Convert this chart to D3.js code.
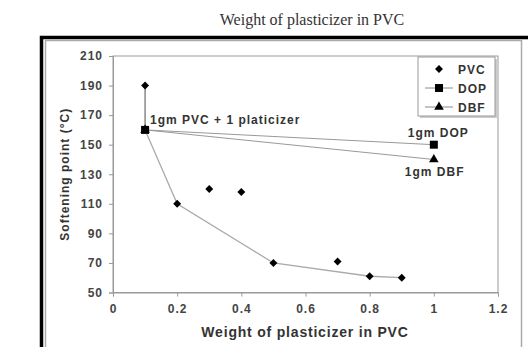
<!DOCTYPE html>
<html>
<head>
<meta charset="utf-8">
<script src="https://d3js.org/d3.v7.min.js"></script>
<style>
  body { margin: 0; background: #fff; }
  svg { display: block; }
  .tick text { font-family: Arial, "Liberation Sans", sans-serif; font-weight: bold; font-size: 12px; letter-spacing: 1px; fill: #444; }
  .tick line, .domain { stroke: #999; }
</style>
</head>
<body>
<div id="chart"></div>
<script>
// PVC measured points
const pvcX = [0.1, 0.2, 0.3, 0.4, 0.5, 0.7, 0.8, 0.9];
const pvcY = [190, 110, 120, 118, 70, 71, 61, 60];
// trend line drawn through part of the PVC points
const trendX = [0.1, 0.1, 0.2, 0.5, 0.8, 0.9];
const trendY = [190, 160, 110, 70, 61, 60];
// plasticizer series
const dopX = [0.1, 1];
const dopY = [160, 150];
const dbfX = [0.1, 1];
const dbfY = [160, 140];

const xTicks = [0, 0.2, 0.4, 0.6, 0.8, 1, 1.2];
const yTicks = [50, 70, 90, 110, 130, 150, 170, 190, 210];
const legendNames = ["PVC", "DOP", "DBF"];

const width = 528, height = 347;
const sans = "Arial, 'Liberation Sans', sans-serif";
const svg = d3.select("#chart").append("svg")
  .attr("width", width).attr("height", height);

// outer frame of the picture
svg.append("path")
  .attr("d", "M41.5,360 V37.5 H530")
  .attr("fill", "none").attr("stroke", "#000").attr("stroke-width", 3.5);
svg.append("path")
  .attr("d", "M45.5,360 V40.5 H521.5 V360")
  .attr("fill", "none").attr("stroke", "#aaa").attr("stroke-width", 1.5);

svg.append("text")
  .attr("x", 312).attr("y", 25)
  .attr("text-anchor", "middle")
  .attr("font-family", "'Liberation Serif', 'Times New Roman', serif")
  .attr("font-size", 16).attr("fill", "#333")
  .text("Weight of plasticizer in PVC");

const x = d3.scaleLinear().domain([0, 1.2]).range([113, 498]);
const y = d3.scaleLinear().domain([50, 210]).range([292.5, 56]);

// plot border
svg.append("rect")
  .attr("x", x(0)).attr("y", y(210))
  .attr("width", x(1.2) - x(0)).attr("height", y(50) - y(210))
  .attr("fill", "none").attr("stroke", "#999");

svg.append("g")
  .attr("transform", `translate(0,${y(50)})`)
  .call(d3.axisBottom(x).tickValues(xTicks).tickSize(4).tickPadding(8)
    .tickFormat(d => d3.format("~g")(d)));

svg.append("g")
  .attr("transform", `translate(${x(0)},0)`)
  .call(d3.axisLeft(y).tickValues(yTicks).tickSize(4).tickPadding(6));

// axis titles
svg.append("text")
  .attr("transform", `translate(69,${(y(50) + y(210)) / 2}) rotate(-90)`)
  .attr("text-anchor", "middle")
  .attr("font-family", sans).attr("letter-spacing", 1)
  .attr("font-weight", "bold").attr("font-size", 12).attr("fill", "#333")
  .text("Softening point (°C)");

svg.append("text")
  .attr("x", 305).attr("y", 336.5)
  .attr("text-anchor", "middle")
  .attr("font-family", sans).attr("letter-spacing", 0.8)
  .attr("font-weight", "bold").attr("font-size", 14).attr("fill", "#333")
  .text("Weight of plasticizer in PVC");

const line = d3.line().x(d => x(d[0])).y(d => y(d[1]));

svg.append("path")
  .datum(d3.zip(trendX.slice(0, 2), trendY.slice(0, 2)))
  .attr("d", line).attr("fill", "none").attr("stroke", "#777").attr("stroke-width", 1.3);
svg.append("path")
  .datum(d3.zip(trendX.slice(1), trendY.slice(1)))
  .attr("d", line).attr("fill", "none").attr("stroke", "#aaa").attr("stroke-width", 1.3);
svg.append("path")
  .datum(d3.zip(dopX, dopY))
  .attr("d", line).attr("fill", "none").attr("stroke", "#999").attr("stroke-width", 1);
svg.append("path")
  .datum(d3.zip(dbfX, dbfY))
  .attr("d", line).attr("fill", "none").attr("stroke", "#999").attr("stroke-width", 1);

const diamond = d3.symbol().type(d3.symbolDiamond2).size(40);
const square = d3.symbol().type(d3.symbolSquare).size(64);
const triangle = d3.symbol().type(d3.symbolTriangle).size(40);

svg.append("g").selectAll("path")
  .data(d3.zip(pvcX, pvcY))
  .join("path")
  .attr("transform", d => `translate(${x(d[0])},${y(d[1])})`)
  .attr("d", diamond).attr("fill", "#000");

svg.append("g").selectAll("path")
  .data(d3.zip(dopX, dopY))
  .join("path")
  .attr("transform", d => `translate(${x(d[0])},${y(d[1])})`)
  .attr("d", square).attr("fill", "#000");

svg.append("g").selectAll("path")
  .data(d3.zip(dbfX, dbfY))
  .join("path")
  .attr("transform", d => `translate(${x(d[0])},${y(d[1])})`)
  .attr("d", triangle).attr("fill", "#000");

// annotations
const note = (tx, ty, str) => svg.append("text")
  .attr("x", tx).attr("y", ty)
  .attr("font-family", sans).attr("letter-spacing", 1)
  .attr("font-weight", "bold").attr("font-size", 12).attr("fill", "#333")
  .text(str);
note(x(0.1) + 5, y(160) - 6, "1gm PVC + 1 platicizer");
note(x(1) - 26, y(150) - 8, "1gm DOP");
note(x(1) - 29, y(140) + 16.5, "1gm DBF");

// legend
const lg = svg.append("g").attr("transform", "translate(418,57)");
lg.append("rect").attr("x", 2).attr("y", 2).attr("width", 77).attr("height", 59).attr("fill", "#ccc");
lg.append("rect").attr("width", 77).attr("height", 59).attr("fill", "#fff").attr("stroke", "#999");
const shapes = [diamond, square, triangle];
legendNames.forEach((name, i) => {
  const ly = 12 + i * 19;
  if (i > 0) {
    lg.append("line").attr("x1", 7).attr("x2", 35).attr("y1", ly).attr("y2", ly)
      .attr("stroke", "#888");
  }
  lg.append("path").attr("transform", `translate(21,${ly})`).attr("d", shapes[i]).attr("fill", "#000");
  lg.append("text").attr("x", 40).attr("y", ly + 4.5)
    .attr("font-family", sans).attr("letter-spacing", 1)
    .attr("font-weight", "bold").attr("font-size", 12).attr("fill", "#333")
    .text(name);
});
</script>
</body>
</html>
